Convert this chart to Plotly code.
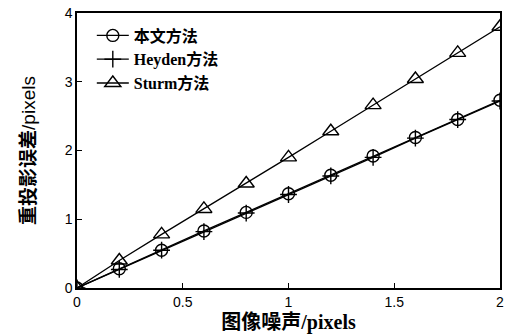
import plotly.graph_objects as go

# Image noise levels (pixels)
noise = [0, 0.2, 0.4, 0.6, 0.8, 1.0, 1.2, 1.4, 1.6, 1.8, 2.0]

# Reprojection error (pixels) for each method
err_ours = [0, 0.28, 0.55, 0.83, 1.10, 1.37, 1.64, 1.92, 2.19, 2.45, 2.73]
err_heyden = [0, 0.27, 0.55, 0.82, 1.09, 1.36, 1.63, 1.90, 2.18, 2.45, 2.72]
err_sturm = [0, 0.40, 0.78, 1.15, 1.52, 1.90, 2.28, 2.66, 3.04, 3.42, 3.80]

names = ["本文方法", "Heyden方法", "Sturm方法"]

x_ticks = [0, 0.5, 1, 1.5, 2]
x_tick_text = ["0", "0.5", "1", "1.5", "2"]
y_ticks = [0, 1, 2, 3, 4]

serif = "Liberation Serif, Noto Sans CJK SC, serif"
sans = "Liberation Sans, Arial, sans-serif"

fig = go.Figure()
fig.add_trace(go.Scatter(
    x=noise, y=err_ours, name=names[0], mode="lines+markers",
    line=dict(color="black", width=1.3),
    marker=dict(symbol="circle-open", size=12, color="black", line=dict(width=1.4)),
))
fig.add_trace(go.Scatter(
    x=noise, y=err_heyden, name=names[1], mode="lines+markers",
    line=dict(color="black", width=1.3),
    marker=dict(symbol="cross-thin-open", size=12, color="black", line=dict(width=1.4)),
))
fig.add_trace(go.Scatter(
    x=noise, y=err_sturm, name=names[2], mode="lines+markers",
    line=dict(color="black", width=1.3),
    marker=dict(symbol="triangle-up-open", size=14, color="black", line=dict(width=1.4)),
))

y_title = ("重投影误差<span style='font-family:Liberation Sans;font-weight:normal'>"
           "/pixels</span>")

fig.update_layout(
    width=506, height=335,
    margin=dict(l=77, r=2, t=13, b=47),
    plot_bgcolor="white", paper_bgcolor="white",
    showlegend=True,
    legend=dict(
        x=0.035, y=0.98, xanchor="left", yanchor="top",
        bgcolor="rgba(0,0,0,0)", borderwidth=0,
        font=dict(family=serif, size=16, color="black", weight="bold"),
        itemwidth=32, tracegroupgap=0,
    ),
    xaxis=dict(
        range=[0, 2], tickvals=x_ticks, ticktext=x_tick_text,
        ticks="inside", ticklen=5, tickcolor="black",
        ticklabeloverflow="allow",
        showline=True, linecolor="black", linewidth=1.5, mirror=True,
        showgrid=False, zeroline=False,
        tickfont=dict(family=sans, size=14, color="black"),
        title=dict(text="图像噪声/pixels", standoff=6,
                   font=dict(family=serif, size=20, color="black", weight="bold")),
    ),
    yaxis=dict(
        range=[0, 4], tickvals=y_ticks,
        ticks="inside", ticklen=5, tickcolor="black",
        showline=True, linecolor="black", linewidth=1.5, mirror=True,
        showgrid=False, zeroline=False,
        tickfont=dict(family=sans, size=14, color="black"),
        title=dict(text=y_title, standoff=24,
                   font=dict(family=serif, size=19, color="black", weight="bold")),
    ),
)

fig.write_html("out.html")
